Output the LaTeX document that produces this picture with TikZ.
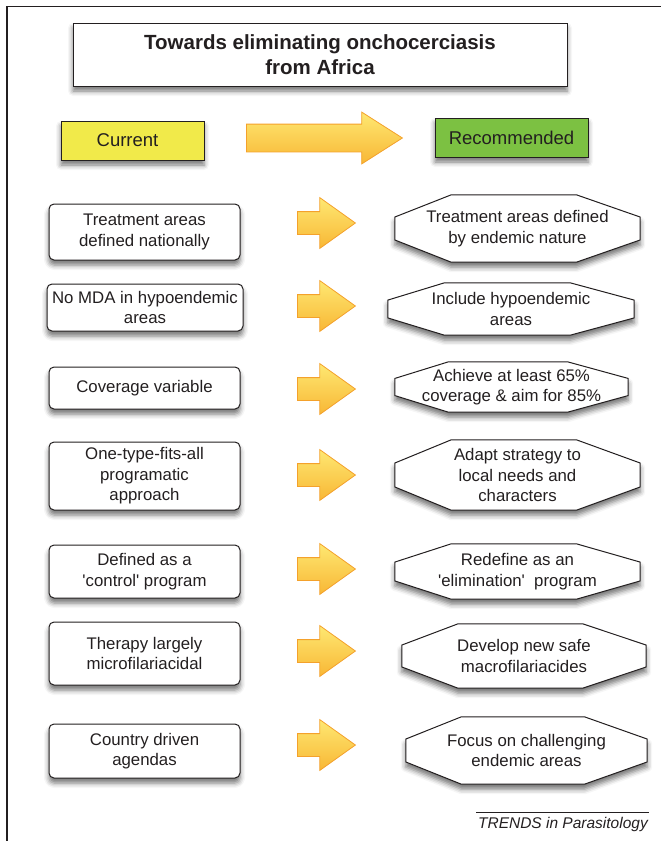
\documentclass[tikz,border=0pt]{standalone}
\usepackage{fontspec}
\setmainfont{Liberation Sans}
\usetikzlibrary{positioning, calc, shapes.arrows, shadows.blur, backgrounds}
\pgfdeclarelayer{back}
\pgfsetlayers{back,background,main}

\definecolor{inkgray}{RGB}{35,31,32}
\definecolor{curyellow}{RGB}{241,234,74}
\definecolor{recgreen}{RGB}{124,193,66}
\definecolor{arrtop}{RGB}{254,232,114}
\definecolor{arrbot}{RGB}{248,183,53}
\definecolor{arredge}{RGB}{244,161,43}
\definecolor{paper}{RGB}{247,248,250}

\newcommand{\bodyfont}{\fontsize{16.8}{20.5}\selectfont}

\begin{document}
\begin{tikzpicture}[
  x=1pt, y=-1pt,
  soft/.style={blur shadow={shadow xshift=0pt, shadow yshift=-5pt, shadow blur radius=5pt, shadow opacity=55}},
  header/.style={rectangle, draw=inkgray, line width=1pt, soft, inner sep=0pt, font=\fontsize{18.5}{22}\selectfont, text=inkgray},
  current/.style={rectangle, draw=inkgray, line width=1pt, fill=white, rounded corners=5pt, soft, inner sep=0pt, align=center, font=\bodyfont, text=inkgray},
  target/.style={rectangle, inner sep=0pt, align=center, font=\bodyfont, text=inkgray},
  octa/.style={draw=inkgray, line width=1pt, fill=white, soft},
  push/.style={single arrow, draw=arredge, line width=0.8pt, top color=arrtop, bottom color=arrbot, inner xsep=0pt, inner ysep=11pt, minimum width=50pt, minimum height=58pt, single arrow head extend=14pt, single arrow tip angle=71, anchor=tail}
]
\useasboundingbox (0,0) rectangle (661,841);

% ======================
% FRAME
% ======================
\begin{pgfonlayer}{back}
\fill[paper] (32,14) rectangle (652,800);
\end{pgfonlayer}
\draw[inkgray, line width=1.2pt] (661,6.5) -- (7,6.5) -- (7,841);

% first blur shadow comes out solid, hide it under the title
\node[soft, fill=white, minimum size=4pt, inner sep=0pt] (warmup) at (320,50) {};

% ======================
% TITLE & HEADERS
% ======================
\node[rectangle, draw=inkgray, line width=1pt, fill=white, soft, minimum width=494pt, minimum height=63pt, align=center, text=inkgray, font=\fontsize{20.5}{25.5}\selectfont\bfseries] (title) at (320,54.5) {Towards eliminating onchocerciasis\\from Africa};

\node[header, fill=curyellow, minimum width=143pt, minimum height=39pt] (current) at (132.5,140.5) {\hspace*{-10pt}Current};
\node[header, fill=recgreen, minimum width=153pt, minimum height=39pt] (recommended) at (511.5,137.5) {Recommended};

\node[push, inner ysep=13.5pt, minimum width=51pt, minimum height=156pt, single arrow head extend=12pt, single arrow tip angle=65] (bigarrow) at (246,138) {};

% ======================
% CURRENT
% ======================
\node[current, minimum width=191pt, minimum height=56pt] (cur1) at (144.5,232) {Treatment areas\\defined nationally};
\node[current, minimum width=196pt, minimum height=47pt] (cur2) at (145,307.5) {No MDA in hypoendemic\\areas};
\node[current, minimum width=191pt, minimum height=42pt] (cur3) at (144.5,388) {Coverage variable};
\node[current, minimum width=191pt, minimum height=68pt] (cur4) at (144.5,476) {One-type-fits-all\\programatic\\approach};
\node[current, minimum width=191pt, minimum height=53pt] (cur5) at (144.5,571.5) {Defined as a\\\textquotesingle control\textquotesingle\ program};
\node[current, minimum width=191pt, minimum height=63pt] (cur6) at (144.5,653.5) {Therapy largely\\microfilariacidal};
\node[current, minimum width=191pt, minimum height=54pt] (cur7) at (144.5,751) {Country driven\\agendas};

% ======================
% ARROWS
% ======================
\node[push] (arr1) at (297,223) {};
\node[push] (arr2) at (297,306) {};
\node[push] (arr3) at (297,389) {};
\node[push] (arr4) at (297,475) {};
\node[push] (arr5) at (297,569) {};
\node[push] (arr6) at (297,651) {};
\node[push] (arr7) at (297,745) {};

% ======================
% RECOMMENDED
% ======================
\node[target, minimum width=245pt, minimum height=67pt] (rec1) at (517.5,228.5) {Treatment areas defined\\by endemic nature};
\node[target, minimum width=246pt, minimum height=52pt] (rec2) at (511,309) {Include hypoendemic\\areas};
\node[target, minimum width=233pt, minimum height=50pt] (rec3) at (511.5,387) {Achieve at least 65\%\\coverage \& aim for 85\%};
\node[target, minimum width=245pt, minimum height=70pt] (rec4) at (517.5,475) {Adapt strategy to\\local needs and\\characters};
\node[target, minimum width=245pt, minimum height=55pt] (rec5) at (517.5,571.5) {Redefine as an\\\textquotesingle elimination\textquotesingle\ \ program};
\node[target, minimum width=244pt, minimum height=64pt] (rec6) at (524,656) {Develop new safe\\macrofilariacides};
\node[target, minimum width=241pt, minimum height=67pt] (rec7) at (526.5,750.5) {Focus on challenging\\endemic areas};

\begin{pgfonlayer}{background}
\foreach \n in {rec1,rec2,rec3,rec4,rec5,rec6,rec7}
  \draw[octa] ($(\n.north west)!0.23!(\n.north east)$) -- ($(\n.north west)!0.74!(\n.north east)$)
    -- ($(\n.north east)!0.33!(\n.south east)$) -- ($(\n.north east)!0.67!(\n.south east)$)
    -- ($(\n.south west)!0.74!(\n.south east)$) -- ($(\n.south west)!0.23!(\n.south east)$)
    -- ($(\n.north west)!0.67!(\n.south west)$) -- ($(\n.north west)!0.33!(\n.south west)$) -- cycle;
\end{pgfonlayer}

% ======================
% SOURCE
% ======================
\coordinate (rulel) at (476,812);
\coordinate (ruler) at (649,812);
\draw[inkgray, line width=0.6pt] (rulel) -- (ruler);
\node[anchor=east, inner sep=0pt, text=inkgray, font=\fontsize{15.5}{18}\selectfont\itshape] (source) at (648,824) {TRENDS in Parasitology};

\end{tikzpicture}
\end{document}
